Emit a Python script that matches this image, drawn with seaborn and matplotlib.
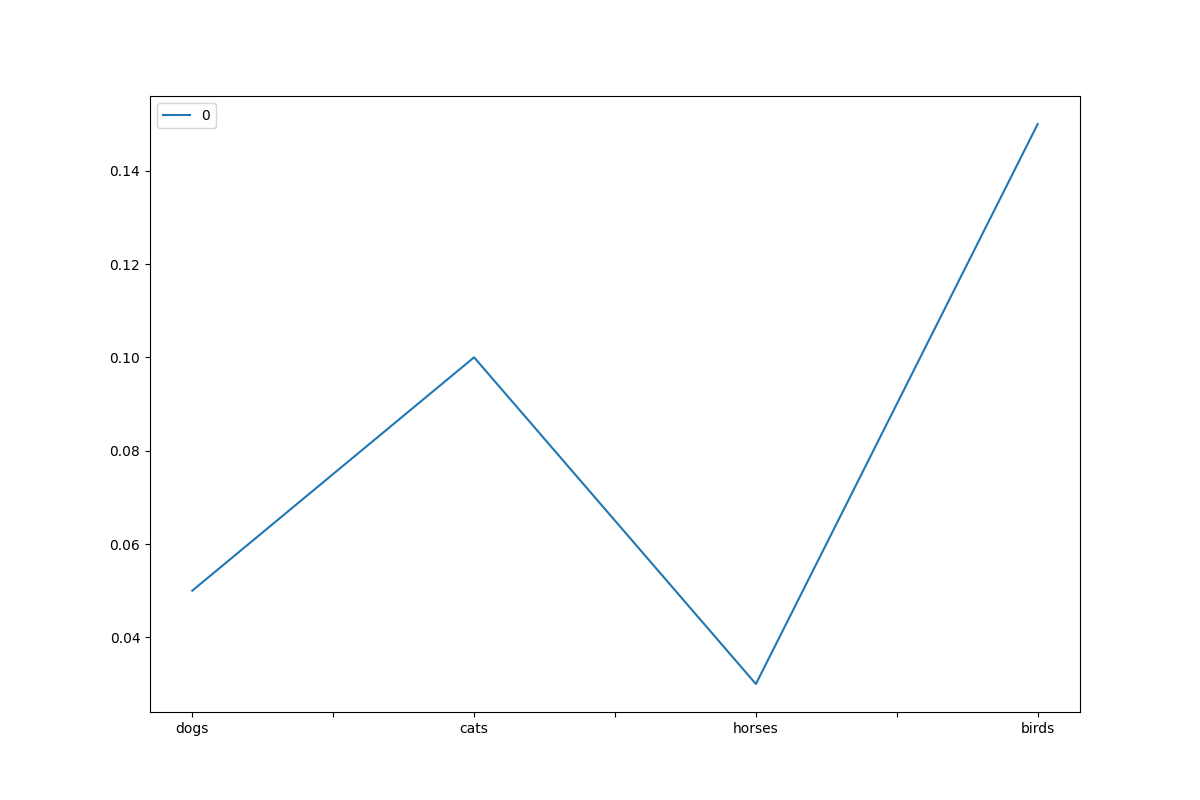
import matplotlib
matplotlib.use('Agg')
import matplotlib.pyplot as plt
import pandas as pd
import seaborn as sns

# data
animals = ['dogs', 'cats', 'horses', 'birds']
values = [0.05, 0.10, 0.03, 0.15]
series_name = '0'

df = pd.DataFrame({'animal': animals, 'value': values})

fig, ax = plt.subplots(figsize=(12, 8), dpi=100)
sns.lineplot(data=df, x='animal', y='value', sort=False, color='#1f77b4',
             label=series_name, ax=ax)

# ticks at every half step, labels only on the categories
pos = [i * 0.5 for i in range(2 * len(animals) - 1)]
labels = [animals[int(p)] if p == int(p) else '' for p in pos]
ax.set_xticks(pos)
ax.set_xticklabels(labels)
ax.set_xlabel('')
ax.set_ylabel('')
ax.legend(loc='upper left')

plt.savefig('out.png', dpi=100)
plt.close()
